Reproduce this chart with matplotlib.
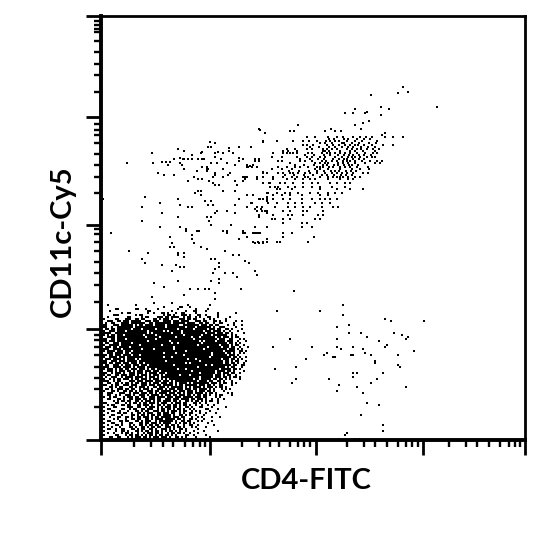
import matplotlib
matplotlib.use('Agg')
import matplotlib.pyplot as plt
import numpy as np

# Axis positions, in channels (0-424 on both axes)
x_major = [0, 109, 215, 322, 424]
x_minor = [33, 50, 62, 72, 84, 92, 99, 104, 141, 158, 169, 178, 189, 197, 203, 209,
           246, 263, 274, 286, 297, 305, 311, 317, 348, 365, 376, 388, 399, 408, 414, 419]
y_major = [0, 111, 215, 323, 424]
y_minor = [33, 51, 62, 73, 85, 93, 100, 105, 138, 155, 167, 178, 189, 198, 206, 211,
           247, 263, 275, 286, 297, 305, 310, 316, 348, 365, 376, 388, 399, 408, 411, 415, 419]

# Occupied bins of the dense CD4-/CD11c- population (2 channels per bin, top row first)
dense_bins = [
    "..........................#........#.................",
    "...#.............#.........................#..........#",
    "...............................#.......##...#..........",
    ".......##........##...#.....#.........#........#.....#....",
    "....#..................##..........#......#...##....#......",
    "..........#..##........#..#...##.#...#..##.....#..........#........#",
    "......###........#.##..........#.##.#...###.#...##..#.....#.........",
    "...#.........##.....#.##....###.##.####..#.##..#.#...##...#.....#...",
    "##.....##...###..##.##....##.#.###.#...###.##.##...#..#.#.....#.....",
    "...###..##.###.#####..###.###..####.###.####...###.##...##.#..#....#..#",
    "#.#..##...####.#######..##.########.######.####..##.##..#..##.....#....",
    ".##...###.######.#.##.####.#####.######..########.###.##.##....#..#...#",
    "###..#..########.###############.#########.####.#######.#..###.....#...",
    "..##.##.#######.####.######.##########.#######.######.###.##..##.#....#",
    "##..###.####.##########.#######.#.######.##########.###.####.#..#...#...",
    ".####..################.#.#########.####.###########.####.###.##.#.....#",
    "##.#.##.###.#########.#####.#############.########.####.#######..#.#...",
    "#..####.##############.######.#######.#######.###.#######.##.###.#.##...",
    ".##..##.####.##############.##################.###########.###..##...#.#",
    "###.###.###############.##########.##############.#.#####.####.###..#...#",
    "#.##..###.#####.###################.##.###########.############.##.#.#...",
    "##..#####.#########.##########.#################.##########.####.#.##..#.",
    "#.###.##.#####.#####################.################.######.###.##..#...#",
    ".###..####.#########.#####.#########.##############.###########.###.#.#.",
    "##.####.###.###.##########################.##################.#####..##.#",
    "#..###.####.##.################.#####.#################.######.##.#..#.#.",
    "###.##.###.####.###.#####################.#############.#######.###.#....",
    "##..####.###.##################.###.##################.##########.##.#..#",
    "#.###.####.#.####.#.#######################.###.############.###.##.#.#.",
    ".##..###.###.#####.#############.################.###########.##.#.##...#",
    "###.##.###.###.###.##.####################.#.################.##.##.#..#.",
    "#.##..###.#.###.###.###.############.###############.##.#########.##..##.",
    ".###..####.####.#.####.#########################.#############.#.##...#.",
    "##.###.#.##.##.###.###.#.##.##########.###.################.#####.##.#...",
    "#..###.#.###.##.#.###.###.###.###############.###########.####.##.#....#",
    "###..#.###.#..###.###.#.####.###.################.#######.##.###.##..#...",
    ".#.##..##.###.###.#.###.#.###.#.#######.####.###########.###.#.##..#....",
    "#.#..###..#.####.####.#.###.#.###################.######.###.##.#.##.#...",
    "##..#.#.##.###.#.##.###.#.###.#.#.############.##.#####.##.##.#.#....#..",
    ".###..#.##....###.###.####.###.###.#.###########.####.##..##.#...#......",
    "#..##..##.#.##.#.##.###.#.###.###.##.#.####.#.########.###.#.##..#.#....",
    ".##..#.##..###.###..###.###.##.#####.#.##.######.###.##.#..##....#......",
    "#...##.#.##...##.#.###.#..##.###.#.######.#.#.####.#.###.#.##.#.........",
    "..##.#..###.##.##..#.###.#..###.#.###.###.###.##.####.#.#...#.#.#...",
    ".#...##.#..##.##.#.##..###.##.#####.##.###.###.#.###.##.#....#......",
    "#..###...###..#.###.###.##.#.####.###.##.#.###.####.#.##.#.....#.#..",
    "...##..#.#..###.#..###.#.####.#.###.##.###.##.#.##.##.#..#.##....#..",
    ".#..#.##...#.###.##.##..###.####.###.###.#####.###.##....#.#........",
    "...##...##.#..##.###.##.###.##..###.###.####.##.###.#..#..#..#......",
    "#.....#.#.##.##..##.#.###.#.##.####.##.#..##.#.##.#.#.##..#.........",
    ".##....##...#.#.##.#.##.###.#.###..#.###.##...##.#..#.....#.........",
    "...#.##...##.##...##.###.#..##.#.##.##.#.##.#..#..#..#..#...........",
    ".#....##.....###..##..#.###.#.#.###.##.#..##.#...##....#......#.....",
    "...##.....##..#.##..##.###..#.##.##.#.##.#..#.#.....##....#.........",
    ".#...##..#...#...##.#.##..###.##.#.###.#.##..#.#.#....#.............",
    "...#....##.##..#..##.#.###..##.###.##..#.#..##...#..#....#..........",
    ".#...##...#....##.#.##.#.##.##.####.#..##.#.#..#...#................",
    "....#...##..##.#..##.###.#.##.#####.###.##...#..#.#....#...#........",
    "##....#.#...#..##.##..##.#.####.#####.##.#..##.#...#................",
    "...##....##.##...##.#.###..#.#######.#..##.##...#.#....#............",
    ".#...##...#...##...##.##.###.#.####..#.#.##.#.#......#..............",
    "...#...##.#...#.#..##.#.##.##.#.##.##.#..#..##..#.......#...........",
    "##...#...#....##.#..##.#.##.##..###.#.##.#...#.#....#...............",
    "...##..#..##...##.#.##..##.#..###.#.#..##.#.....#...................",
    ".#.....#..##.#...##.#.##.#.##.#.#.##.#.#..#...#....#......#.........",
    "...#..#...#.##.#..#..#.###.##.#..#.##.##.#..#...#...................",
    "##.....##...#.##.##.#.#.##.#.##.##.#.#....##..#.....#...............",
    "....##..##...#.#.###.##.#.###.###.#..##.#.#....#......#.............",
    "#.##.#.##.#.##.#.######.#.#####.####.##.##.#.#.#...#....#.#.........",
]

# Single events outside the dense population: CD4 channel, CD11c channel
event_x = [26, 51, 52, 57, 63, 61, 65, 69, 67, 73, 77, 83, 79, 82, 83, 87, 91, 91, 79, 81, 83, 73, 87, 96, 93, 97, 101, 101, 106, 106, 107, 106,
           97, 101, 103, 101, 100, 109, 114, 107, 110, 114, 114, 117, 122, 128, 128, 132, 138, 150, 162, 164, 120, 116, 126, 110, 122, 138, 138,
           142, 134, 129, 114, 112, 114, 122, 127, 108, 112, 114, 118, 134, 136, 142, 144, 142, 146, 149, 152, 146, 154, 158, 156, 162, 166, 162,
           156, 162, 168, 94, 97, 100, 100, 122, 134, 146, 152, 166, 44, 2, 59, 77, 104, 110, 138, 150, 158, 162, 166, 166, 41, 79, 87, 91, 107,
           112, 134, 146, 61, 116, 114, 126, 134, 154, 156, 160, 164, 166, 41, 77, 106, 110, 108, 158, 59, 79, 110, 130, 154, 166, 10, 85, 85, 96,
           98, 122, 126, 126, 142, 144, 152, 154, 158, 91, 91, 146, 69, 138, 166, 93, 71, 152, 154, 158, 162, 69, 73, 100, 106, 28, 47, 77, 77, 83,
           83, 124, 132, 138, 41, 44, 110, 114, 118, 118, 144, 148, 61, 75, 79, 83, 114, 112, 71, 124, 132, 136, 154, 156, 118, 118, 53, 77, 110,
           63, 89, 97, 104, 108, 140, 114, 83, 51, 114, 159,
           # upper right population
           302, 307, 297, 270, 254, 252, 244, 266, 264, 280, 288, 280, 268, 262, 254, 197, 158, 164, 189, 193, 224, 230, 234, 240, 260, 162, 176,
           150, 302, 292, 284, 284, 292, 281, 336,
           206, 214, 227, 236, 242, 252, 259, 265, 271,
           192, 202, 208, 216, 225, 229, 234, 238, 246, 254, 261, 276,
           202, 206, 212, 226, 232, 238, 244, 249, 254, 257, 263, 271, 282,
           186, 194, 206, 211, 222, 226, 231, 236, 246, 251, 256, 260, 266, 272, 278,
           182, 187, 196, 222, 224, 228, 239, 249, 254, 262, 274,
           172, 182, 186, 189, 192, 196, 207, 211, 221, 226, 229, 234, 239, 244, 249, 256, 264, 272, 276,
           171, 181, 196, 206, 211, 219, 224, 234, 241, 247, 251, 254, 259, 266, 271, 274,
           154, 158, 177, 181, 199, 204, 211, 221, 225, 231, 236, 242, 246, 249, 254, 261, 269, 276, 281,
           189, 214, 219, 224, 227, 237, 242, 247, 254, 264, 274, 279,
           147, 151, 156, 177, 186, 194, 199, 207, 216, 219, 222, 228, 232, 239, 244, 249, 256, 267,
           171, 181, 191, 214, 219, 227, 239, 251, 259, 268,
           162, 166, 177, 182, 189, 192, 197, 204, 209, 216, 224, 231, 236, 241, 246, 252, 262, 267,
           142, 146, 156, 172, 182, 191, 196, 204, 207, 219, 227, 232, 236, 239, 242, 247, 254, 259,
           144, 172, 186, 194, 202, 209, 214, 227, 239, 247, 252,
           162, 169, 179, 184, 192, 202, 211, 217, 229, 236, 244, 249,
           169, 174, 177, 187, 194, 202, 211, 219, 231, 244,
           176, 179, 191, 219, 236, 249, 262,
           167, 176, 184, 189, 197, 209, 217, 227, 234, 241,
           146, 152, 172, 181, 189, 201, 219, 227,
           159, 166, 172, 182, 189, 201, 211, 219, 224, 229, 236,
           151, 167, 176, 187, 194, 201, 214, 221, 229,
           146, 156, 161, 174, 187, 194, 202, 209, 221, 232, 237,
           161, 166, 182, 189, 202, 206, 222,
           158, 172, 187, 191, 202, 217, 222,
           171, 174, 182, 189, 214, 219,
           201, 206, 182,
           154, 166, 201, 211,
           142, 152, 156, 159, 182, 191,
           146, 182, 213,
           152, 157, 162, 166, 176, 179, 207,
           # core of the upper right population, in between rows
           228, 233, 243, 247, 256, 263, 269,
           219, 224, 231, 241, 243, 251, 258, 268, 275,
           209, 218, 228, 234, 241, 247, 252, 260, 267, 274,
           204, 213, 223, 229, 237, 243, 248, 252, 258, 263, 270,
           199, 209, 217, 223, 232, 238, 243, 246, 252, 258, 263,
           194, 203, 213, 222, 226, 233, 237, 243, 248, 251, 257,
           188, 198, 208, 216, 223, 230, 234, 238, 245, 250, 255,
           184, 193, 203, 212, 221, 226, 233, 240, 245, 251,
           # lower right population
           193, 176, 219, 242, 242, 236, 248, 248, 260, 266, 284, 290, 323, 293, 301, 307, 305, 278, 286, 284, 189, 236, 172, 211, 236, 240, 252,
           262, 264, 270, 313, 297, 226, 223, 232, 234, 250, 252, 205, 274, 274, 297, 299, 195, 174, 252, 256, 252, 282, 195, 191, 228, 276, 270,
           238, 256, 305, 236, 262, 266, 278, 260, 282, 282, 246, 244, 238, 254, 258]
event_y = [277, 287, 277, 267, 265, 278, 278, 278, 275, 281, 291, 289, 282, 281, 281, 281, 285, 281, 277, 275, 271, 265, 259, 269, 263, 261, 261, 273, 273, 271, 271, 269,
           281, 281, 281, 288, 287, 298, 297, 293, 293, 287, 283, 288, 287, 292, 289, 287, 293, 293, 298, 307, 281, 277, 277, 277, 271, 282, 279,
           281, 275, 267, 267, 263, 265, 263, 265, 259, 257, 255, 255, 259, 255, 263, 263, 259, 275, 274, 275, 273, 281, 281, 273, 268, 267, 263,
           261, 257, 257, 247, 249, 249, 245, 249, 249, 245, 245, 247, 243, 241, 237, 241, 239, 239, 241, 237, 241, 241, 243, 239, 233, 235, 233, 233, 235,
           235, 235, 233, 227, 229, 227, 229, 227, 231, 229, 231, 229, 227, 219, 223, 223, 223, 219, 223, 213, 213, 215, 215, 213, 213, 207, 211, 209, 209,
           209, 209, 209, 207, 209, 207, 207, 207, 207, 205, 201, 203, 203, 201, 201, 197, 197, 198, 197, 197, 197, 193, 193, 193, 191, 189, 187, 187, 185, 187,
           183, 189, 185, 185, 181, 177, 181, 181, 177, 173, 179, 177, 175, 175, 173, 173, 171, 167, 169, 167, 167, 163, 169, 165, 161, 157, 157, 159, 159,
           153, 151, 151, 151, 151, 151, 147, 145, 143, 141, 310,
           # upper right population
           353, 348, 347, 345, 331, 327, 327, 328, 327, 333, 331, 325, 319, 317, 315, 315, 311, 307, 309, 309, 309, 311, 309, 309, 311, 299, 299,
           293, 303, 303, 307, 303, 295, 305, 333,
           303, 303, 303, 303, 303, 303, 303, 303, 303,
           299, 299, 299, 299, 299, 299, 299, 299, 299, 299, 299, 299,
           295, 295, 295, 295, 295, 295, 295, 295, 295, 295, 295, 295, 295,
           291, 291, 291, 291, 291, 291, 291, 291, 291, 291, 291, 291, 291, 291, 291,
           289, 289, 289, 289, 289, 289, 289, 289, 289, 289, 289,
           287, 287, 287, 287, 287, 287, 287, 287, 287, 287, 287, 287, 287, 287, 287, 287, 287, 287, 287,
           283, 283, 283, 283, 283, 283, 283, 283, 283, 283, 283, 283, 283, 283, 283, 283,
           279, 279, 279, 279, 279, 279, 279, 279, 279, 279, 279, 279, 279, 279, 279, 279, 279, 279, 279,
           277, 277, 277, 277, 277, 277, 277, 277, 277, 277, 277, 277,
           273, 273, 273, 273, 273, 273, 273, 273, 273, 273, 273, 273, 273, 273, 273, 273, 273, 273,
           271, 271, 271, 271, 271, 271, 271, 271, 271, 271,
           267, 267, 267, 267, 267, 267, 267, 267, 267, 267, 267, 267, 267, 267, 267, 267, 267, 267,
           263, 263, 263, 263, 263, 263, 263, 263, 263, 263, 263, 263, 263, 263, 263, 263, 263, 263,
           261, 261, 261, 261, 261, 261, 261, 261, 261, 261, 261,
           257, 257, 257, 257, 257, 257, 257, 257, 257, 257, 257, 257,
           253, 253, 253, 253, 253, 253, 253, 253, 253, 253,
           251, 251, 251, 251, 251, 251, 251,
           247, 247, 247, 247, 247, 247, 247, 247, 247, 247,
           245, 245, 245, 245, 245, 245, 245, 245,
           241, 241, 241, 241, 241, 241, 241, 241, 241, 241, 241,
           237, 237, 237, 237, 237, 237, 237, 237, 237,
           233, 233, 233, 233, 233, 233, 233, 233, 233, 233, 233,
           229, 229, 229, 229, 229, 229, 229,
           225, 225, 225, 225, 225, 225, 225,
           221, 221, 221, 221, 221, 221,
           217, 217, 217,
           213, 213, 213, 213,
           207, 207, 207, 207, 207, 207,
           203, 203, 203,
           198, 198, 198, 198, 198, 198, 198,
           # core of the upper right population, in between rows
           301, 301, 301, 301, 301, 301, 301,
           297, 297, 297, 297, 297, 297, 297, 297, 297,
           293, 293, 293, 293, 293, 293, 293, 293, 293, 293,
           285, 285, 285, 285, 285, 285, 285, 285, 285, 285, 285,
           281, 281, 281, 281, 281, 281, 281, 281, 281, 281, 281,
           275, 275, 275, 275, 275, 275, 275, 275, 275, 275, 275,
           269, 269, 269, 269, 269, 269, 269, 269, 269, 269, 269,
           265, 265, 265, 265, 265, 265, 265, 265, 265, 265,
           # lower right population
           149, 129, 129, 135, 125, 113, 115, 107, 107, 103, 121, 119, 119, 107, 105, 103, 101, 99, 95, 93, 101, 101, 93, 93, 93, 91, 93,
           91, 87, 85, 89, 85, 87, 85, 83, 83, 85, 85, 81, 79, 77, 75, 73, 73, 71, 67, 67, 63, 67, 61, 57, 61, 61, 57,
           55, 53, 53, 49, 47, 37, 35, 25, 15, 9, 7, 5, 1, 1, 1]

fig = plt.figure(figsize=(5.4, 5.4), dpi=100)
ax = fig.add_axes([101 / 540, 100 / 540, 424 / 540, 424 / 540])

# Dense population as a bitmap of occupied bins
width = max(len(r) for r in dense_bins)
occupied = np.array([[c == '#' for c in r.ljust(width, '.')] for r in dense_bins], dtype=float)
ax.imshow(occupied, cmap='gray_r', vmin=0, vmax=1, interpolation='nearest', aspect='auto',
          extent=[0, 2 * width, 0, 2 * len(dense_bins)], origin='upper')

ax.scatter(event_x, event_y, s=3.0, marker='s', color='black', linewidths=0)

ax.set_xlim(0, 424)
ax.set_ylim(0, 424)

for side in ['top', 'right']:
    ax.spines[side].set_linewidth(2.0)
for side in ['left', 'bottom']:
    ax.spines[side].set_linewidth(2.8)

ax.set_xticks(x_major)
ax.set_xticks(x_minor, minor=True)
ax.set_yticks(y_major)
ax.set_yticks(y_minor, minor=True)
ax.tick_params(which='major', length=11, width=2.0, labelbottom=False, labelleft=False)
ax.tick_params(which='minor', length=5, width=1.7)

ax.set_xlabel('CD4-FITC', fontsize=21, fontfamily='Lato', fontweight='bold')
ax.set_ylabel('CD11c-Cy5', fontsize=21, fontfamily='Lato', fontweight='bold')
ax.xaxis.set_label_coords(0.485, -0.066)
ax.yaxis.set_label_coords(-0.059, 0.47)

fig.savefig('out.png', dpi=100)
